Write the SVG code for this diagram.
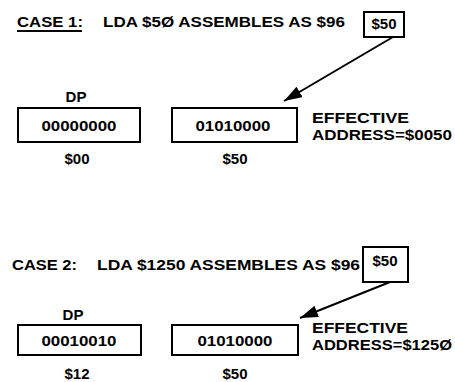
<svg xmlns="http://www.w3.org/2000/svg" width="455" height="382" viewBox="0 0 455 382">
<style>
text{font-family:"Liberation Sans",Arial,sans-serif;font-weight:bold;font-size:15px;fill:#000}
.c{text-anchor:middle}
.box{fill:none;stroke:#000;stroke-width:2}
.conn{stroke:#000;stroke-width:2;fill:none;marker-end:url(#ah)}
</style>
<defs>
<marker id="ah" viewBox="0 0 18 12" refX="18" refY="6" markerWidth="18" markerHeight="12" markerUnits="userSpaceOnUse" orient="auto">
<path d="M0,0 L18,6 L0,12 Z" fill="#000"/>
</marker>
</defs>
<rect width="455" height="382" fill="#fff"/>

<g id="case1-title">
<text x="17" y="27" textLength="66" lengthAdjust="spacingAndGlyphs">CASE 1:</text>
<line x1="17" y1="31" x2="82" y2="31" stroke="#000" stroke-width="2"/>
<text x="103" y="27" textLength="242" lengthAdjust="spacingAndGlyphs">LDA $5Ø ASSEMBLES AS $96</text>
</g>
<g id="case1-operand">
<rect class="box" x="364" y="12" width="40" height="25"/>
<text class="c" x="384" y="29">$50</text>
</g>
<g id="case1-dp">
<text class="c" x="76" y="102">DP</text>
<rect class="box" x="18" y="108" width="122" height="34"/>
<text class="c" x="79" y="131" textLength="75" lengthAdjust="spacingAndGlyphs">00000000</text>
<text class="c" x="77" y="164">$00</text>
</g>
<g id="case1-low">
<rect class="box" x="172" y="108" width="125" height="34"/>
<text class="c" x="233" y="131" textLength="75" lengthAdjust="spacingAndGlyphs">01010000</text>
<text class="c" x="235" y="164">$50</text>
</g>
<g id="case1-ea">
<text x="312" y="123" textLength="97" lengthAdjust="spacingAndGlyphs">EFFECTIVE</text>
<text x="312" y="140" textLength="140" lengthAdjust="spacingAndGlyphs">ADDRESS=$0050</text>
</g>

<g id="case2-title">
<text x="12" y="270" textLength="65" lengthAdjust="spacingAndGlyphs">CASE 2:</text>
<text x="97" y="270" textLength="263" lengthAdjust="spacingAndGlyphs">LDA $1250 ASSEMBLES AS $96</text>
</g>
<g id="case2-operand">
<rect class="box" x="363" y="247" width="45" height="35"/>
<text class="c" x="385" y="266">$50</text>
</g>
<g id="case2-dp">
<text class="c" x="73" y="320">DP</text>
<rect class="box" x="18" y="325" width="123" height="30"/>
<text class="c" x="79" y="346" textLength="75" lengthAdjust="spacingAndGlyphs">00010010</text>
<text class="c" x="77" y="379">$12</text>
</g>
<g id="case2-low">
<rect class="box" x="172" y="325" width="126" height="30"/>
<text class="c" x="235" y="346" textLength="75" lengthAdjust="spacingAndGlyphs">01010000</text>
<text class="c" x="235" y="379">$50</text>
</g>
<g id="case2-ea">
<text x="312" y="333" textLength="96" lengthAdjust="spacingAndGlyphs">EFFECTIVE</text>
<text x="312" y="350" textLength="140" lengthAdjust="spacingAndGlyphs">ADDRESS=$125Ø</text>
</g>

<g id="connectors">
<line class="conn" x1="393" y1="37" x2="284" y2="101"/>
<line class="conn" x1="390" y1="282" x2="300" y2="318"/>
</g>
</svg>
